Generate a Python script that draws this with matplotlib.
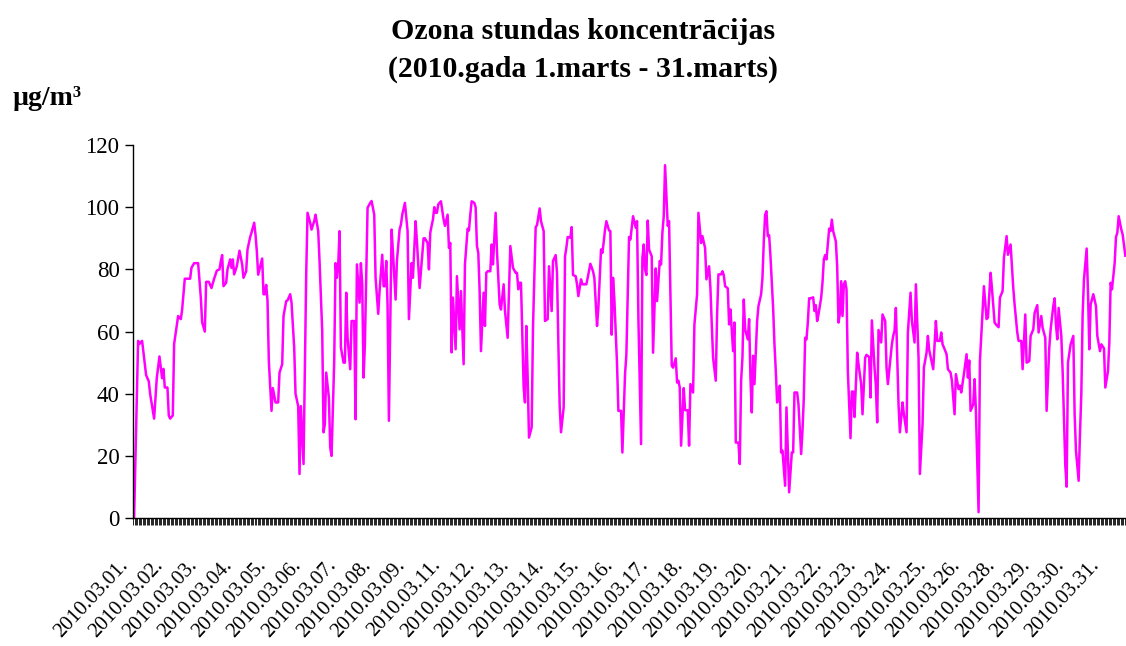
import matplotlib
matplotlib.use("Agg")
import matplotlib.pyplot as plt
import matplotlib.transforms as mtransforms
import numpy as np

# Ozona stundas koncentrācijas, 2010. gada marts (744 stundas)
# stundas indekss (0 = 03.01. 00:00) un vērtība, nolasīts no attēla
hours = [
    0, 3, 4, 6, 9, 11, 12, 15, 17, 19, 21, 22, 23, 25, 26, 27, 29, 30, 32, 33,
    35, 36, 38, 40, 42, 43, 45, 48, 50, 51, 53, 54, 56, 58, 60, 62, 64, 65, 66, 67,
    69, 70, 72, 73, 74, 75, 77, 79, 81, 82, 84, 85, 87, 88, 90, 91, 92, 93, 96, 97,
    98, 99, 100, 101, 103, 104, 106, 108, 109, 111, 112, 114, 115, 117, 118, 120, 121, 123, 124, 125,
    127, 128, 129, 130, 132, 133, 135, 136, 138, 139, 141, 142, 143, 144, 146, 147, 148, 150, 151, 152,
    153, 154, 155, 157, 158, 159, 160, 162, 163, 165, 166, 167, 169, 170, 171, 172, 173, 175, 177, 178,
    180, 181, 183, 184, 186, 187, 188, 189, 190, 191, 193, 194, 196, 197, 199, 200, 201, 203, 205, 206,
    208, 209, 211, 212, 214, 215, 217, 218, 220, 221, 222, 223, 224, 225, 226, 227, 228, 230, 232, 233,
    235, 236, 237, 238, 239, 241, 242, 244, 245, 247, 248, 250, 251, 252, 253, 255, 256, 257, 258, 259,
    260, 262, 263, 264, 265, 267, 268, 269, 271, 272, 274, 275, 277, 278, 280, 281, 282, 284, 286, 287,
    288, 289, 290, 292, 293, 294, 295, 296, 298, 299, 301, 302, 304, 305, 307, 308, 310, 311, 313, 314,
    316, 317, 318, 319, 320, 322, 323, 324, 325, 327, 328, 329, 331, 332, 333, 335, 336, 339, 340, 342,
    344, 345, 347, 348, 350, 351, 352, 353, 354, 356, 357, 358, 359, 360, 362, 363, 365, 366, 368, 369,
    371, 372, 374, 376, 377, 378, 380, 381, 382, 383, 384, 385, 386, 388, 389, 391, 392, 394, 395, 396,
    397, 398, 400, 401, 403, 404, 406, 407, 408, 409, 410, 412, 413, 415, 416, 417, 419, 420, 422, 423,
    425, 426, 428, 429, 431, 432, 433, 434, 436, 437, 438, 440, 441, 442, 443, 445, 446, 447, 448, 449,
    450, 451, 453, 454, 455, 456, 457, 458, 460, 461, 462, 463, 464, 465, 467, 468, 470, 471, 472, 473,
    474, 475, 476, 477, 478, 479, 480, 481, 482, 483, 484, 485, 486, 488, 489, 491, 493, 494, 495, 497,
    498, 500, 501, 502, 503, 504, 505, 506, 507, 509, 510, 511, 512, 513, 515, 516, 517, 518, 519, 521,
    522, 523, 524, 526, 527, 528, 529, 530, 531, 532, 533, 534, 535, 537, 538, 539, 540, 542, 543, 545,
    546, 548, 549, 551, 552, 553, 555, 556, 557, 558, 560, 561, 563, 564, 565, 567, 568, 569, 570, 571,
    573, 574, 576, 577, 579, 580, 582, 583, 585, 586, 588, 589, 591, 592, 594, 595, 596, 598, 599, 601,
    602, 604, 605, 606, 607, 609, 610, 612, 613, 615, 616, 618, 619, 620, 622, 624, 625, 626, 627, 629,
    630, 631, 633, 634, 636, 637, 639, 640, 642, 643, 645, 646, 648, 649, 651, 652, 654, 655, 657, 659,
    660, 662, 663, 665, 666, 668, 669, 671, 672, 674, 675, 677, 678, 680, 681, 683, 684, 686, 687, 689,
    690, 691, 692, 693, 695, 696, 698, 699, 700, 702, 704, 705, 706, 708, 709, 710, 711, 712, 714, 715,
    716, 717, 719, 721, 722, 724, 725, 727, 728, 730, 731, 732, 733, 735, 736, 737, 738, 740, 741, 743,
]
ozone = [
    0, 57, 56, 57, 46, 44, 40, 32, 45, 52, 45, 48, 42, 42, 33, 32, 33, 56, 62, 65,
    64, 67, 77, 77, 77, 80.5, 82, 82, 71, 63, 60, 76, 76, 74, 77, 79.6, 80, 82.6, 84.6, 74.6,
    75.7, 80, 83.2, 80.5, 83.2, 78.4, 81, 86, 81.6, 77.3, 79.4, 86.4, 90.4, 91.8, 95, 91.2, 85.8, 78.3, 83.5, 72,
    72, 75, 70, 50.5, 34.5, 41.8, 37.2, 37.2, 46.8, 49.5, 65, 69.8, 70, 72, 69.3, 54.9, 40, 36, 14.2, 36,
    17.4, 48.4, 78.4, 98.2, 95, 92.8, 95.5, 97.6, 92.3, 82.7, 60.2, 27.6, 30.2, 46.8, 38.8, 22.7, 20, 50.5, 82, 77.3,
    81.6, 92.3, 54.9, 50, 50, 72.5, 58, 47.9, 63.4, 63.4, 31.8, 81.6, 69.3, 82, 75.2, 45.2, 56, 99.8, 101.4, 102,
    97.6, 77.3, 65.7, 73, 84.7, 74.6, 74.6, 82.7, 68.2, 31.3, 92.8, 85.8, 70.3, 82.7, 92.8, 94.4, 97.6, 101.4, 92.3, 64,
    82, 77.3, 95.5, 89, 74, 79.4, 90, 90, 88.5, 80, 91.8, 94, 96, 100, 98.2, 98.2, 100.9, 101.9, 96, 94,
    97.6, 86.9, 88.5, 53.3, 70.9, 54.3, 77.8, 60.7, 73, 49.5, 81.6, 93.1, 92.5, 97.6, 101.9, 101.4, 100, 87.5, 85.3, 73,
    53.7, 72.5, 61.8, 78.9, 79.4, 79.4, 88, 81.6, 98.2, 85.8, 68.7, 67.1, 75.2, 66.6, 58, 73, 87.5, 80.5, 78.9, 78.9,
    73.6, 75.7, 75.7, 42, 37.2, 61.8, 45.2, 25.9, 29.2, 61.3, 93.6, 94.2, 99.6, 95.5, 92.3, 63.4, 64, 81, 66.6, 82.7,
    84.6, 78.9, 56.4, 36.1, 27.6, 35.6, 84.2, 86.9, 90.4, 90.2, 93.6, 78.2, 77.8, 75.2, 71.4, 76.8, 75.2, 75.2, 77.3, 81.8,
    79.4, 77.3, 61.8, 67.6, 86.4, 85.3, 88.8, 92.8, 95.5, 92.5, 92.3, 59, 77.3, 70.3, 49.5, 34.5, 34.5, 21.1, 46.3, 52.7,
    90.4, 89.6, 97.1, 93.4, 95.5, 64.5, 23.8, 83.7, 88, 80, 78.2, 95.7, 86.4, 84.2, 53.2, 80.3, 69.8, 82.7, 81.6, 91.8,
    97.1, 113.5, 94, 95.5, 49, 48.4, 51.4, 43.6, 44.2, 42, 23.3, 41.8, 34.7, 34.7, 23.3, 43.1, 40.4, 62.3, 72, 98.2,
    88.5, 90.7, 86.9, 76.8, 81, 74, 62.3, 51.6, 44.2, 65.5, 78.4, 78.4, 79.4, 78.2, 74.6, 73.9, 62.3, 67.1, 60.2, 53.7,
    62.9, 24.3, 24.3, 17.4, 44.2, 51.6, 70.3, 60.7, 57.5, 64, 45.2, 34, 52.2, 43.1, 63.4, 68.2, 72, 77.3, 89, 97.6,
    98.7, 90.7, 91, 84.2, 76.2, 67.6, 55.9, 47.3, 37.2, 38.8, 42.6, 21.1, 21.7, 10.4, 35.6, 8.3, 21.1, 21.1, 40.4, 40.4,
    36.6, 20.6, 28.1, 38.8, 58, 57.5, 62.9, 70.7, 70.7, 71, 66.6, 68.5, 63.4, 65.5, 70.9, 75.7, 83.2, 84.6, 83.2, 93.1,
    92.3, 96, 92.3, 89, 81, 62.9, 65.7, 76.2, 65, 75.2, 76.2, 73.6, 47.3, 25.7, 40.7, 40.7, 32.5, 53.2, 49.5, 43.1,
    33.4, 51.6, 52.5, 51.8, 38.8, 63.6, 48.4, 42.6, 30.8, 60.5, 56.5, 65.5, 63.4, 48.4, 43.1, 51.6, 55.9, 58.6, 60.2, 67.6,
    36.6, 27.6, 37.2, 33.4, 27.6, 59.7, 72.5, 63.4, 56.5, 75.2, 51.6, 14.2, 30.2, 48.4, 53.2, 58.6, 54, 50, 47.9, 63.4,
    57, 57, 59.7, 55.9, 54.9, 52.7, 47.9, 46.8, 44.2, 33.4, 46.3, 41.5, 42.6, 40.4, 46.3, 52.7, 45.2, 50.7, 34.5, 36.6,
    44.7, 34.5, 1.9, 50.5, 66.6, 74.6, 64, 64.5, 78.9, 74, 62.9, 62.3, 61.4, 70.9, 73, 83.7, 90.7, 84.7, 88, 74,
    68.7, 59.7, 57, 57, 47.9, 65.5, 50, 50.5, 58.6, 60.7, 66, 68.5, 59.7, 65, 61.2, 58, 34.5, 54.9, 60.7, 68.2,
    70.7, 62.3, 57.5, 67.6, 58.6, 47.3, 16.9, 10.1, 50, 55.9, 58.6, 33.4, 21.7, 12, 27, 39.9, 65.5, 76.8, 86.7, 73,
    54.3, 68.7, 72, 68.2, 58.6, 53.7, 55.9, 54.6, 42, 47.3, 56.4, 75.7, 73.6, 82, 90.4, 91.8, 97.1, 92.8, 91.2, 84.4,
]

# kategoriju paraksti (Excel rāda katru 26. kategoriju)
label_step = 26
date_labels = [
    "2010.03.01.", "2010.03.02.", "2010.03.03.", "2010.03.04.", "2010.03.05.",
    "2010.03.06.", "2010.03.07.", "2010.03.08.", "2010.03.09.", "2010.03.11.",
    "2010.03.12.", "2010.03.13.", "2010.03.14.", "2010.03.15.", "2010.03.16.",
    "2010.03.17.", "2010.03.18.", "2010.03.19.", "2010.03.20.", "2010.03.21.",
    "2010.03.22.", "2010.03.23.", "2010.03.24.", "2010.03.25.", "2010.03.26.",
    "2010.03.28.", "2010.03.29.", "2010.03.30.", "2010.03.31.",
]
n_hours = 744
y_ticks = [0, 20, 40, 60, 80, 100, 120]

plt.rcParams["font.family"] = ["Liberation Serif", "DejaVu Serif"]

fig = plt.figure(figsize=(11.26, 6.46), dpi=100)
ax = fig.add_axes([0.1185, 0.198, 0.8815, 0.5775])

ax.plot(hours, ozone, color="#ff00ff", lw=1.8)

ax.set_xlim(-0.5, n_hours - 0.5)
ax.set_ylim(0, 120)

ax.set_yticks(y_ticks)
ax.tick_params(axis="y", direction="out", length=6, width=1, pad=4, labelsize=16.5)

# tick marks at every category boundary
ax.set_xticks(np.arange(n_hours + 1) - 0.5, minor=True)
ax.tick_params(axis="x", which="minor", direction="out", length=5, width=0.6)
ax.set_xticks(np.arange(len(date_labels)) * label_step)
ax.set_xticklabels(date_labels, rotation=47, ha="right", va="center",
                   rotation_mode="anchor")
ax.tick_params(axis="x", which="major", length=0, pad=32, labelsize=15)

# labels sit a little left of their category, as in Excel
shift = mtransforms.ScaledTranslation(-9 / 100, 0, fig.dpi_scale_trans)
for lbl in ax.get_xticklabels():
    lbl.set_transform(lbl.get_transform() + shift)

for s in ["top", "right"]:
    ax.spines[s].set_visible(False)
for s in ["left", "bottom"]:
    ax.spines[s].set_linewidth(1)

fig.text(0.518, 0.951, "Ozona stundas koncentrācijas", ha="center", va="center",
         fontsize=21.5, fontweight="bold")
fig.text(0.518, 0.893, "(2010.gada 1.marts - 31.marts)", ha="center", va="center",
         fontsize=21.5, fontweight="bold")
fig.text(0.011, 0.848, "µg/m³", ha="left", va="center", fontsize=20, fontweight="bold")

fig.savefig("out.png", dpi=100)
